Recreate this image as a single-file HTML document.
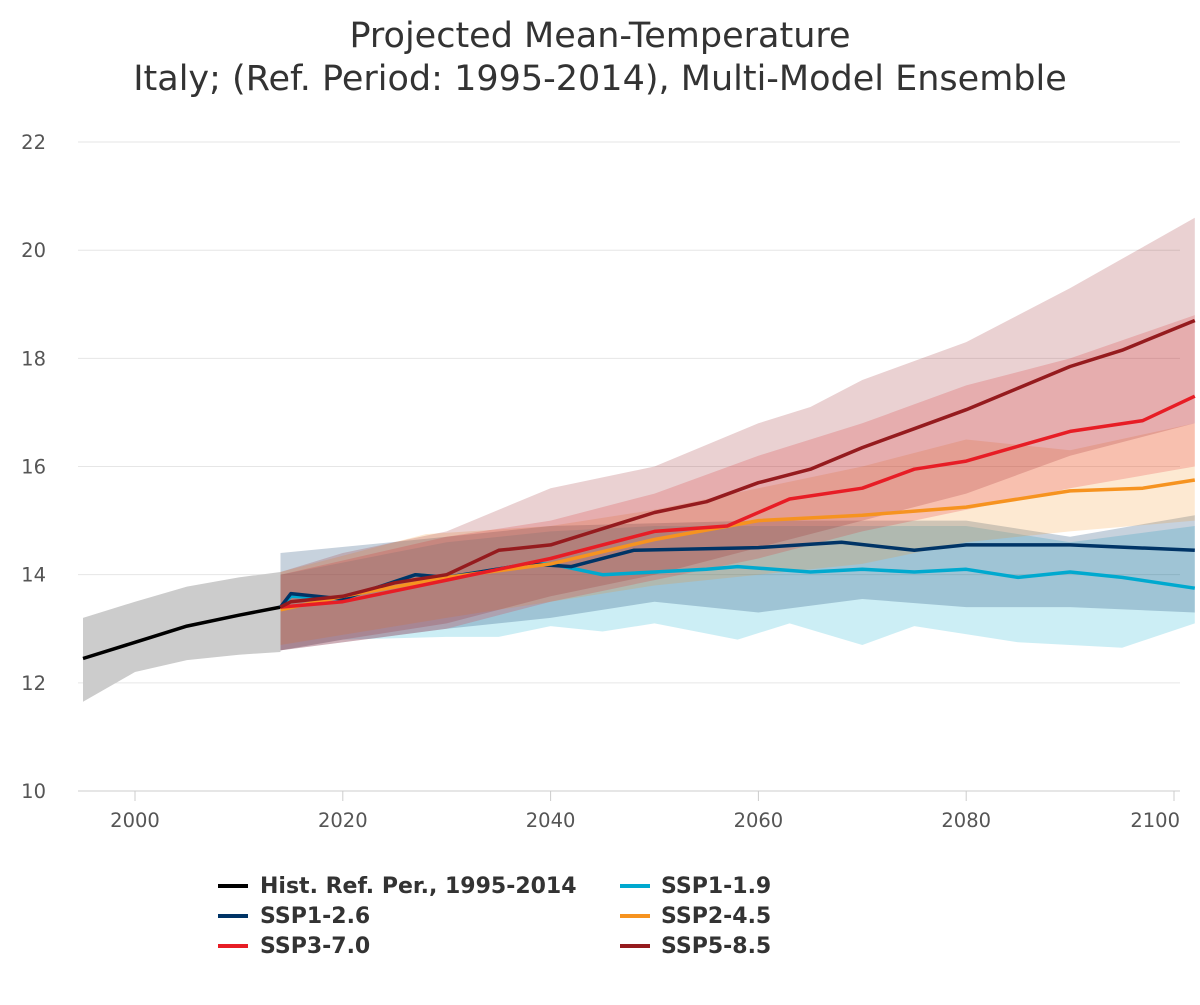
<!DOCTYPE html>
<html><head><meta charset="utf-8"><style>
body{margin:0;background:#fff}
svg text{font-family:"DejaVu Sans","Liberation Sans",sans-serif}
</style></head><body>
<svg id="s" width="1200" height="1000" xmlns="http://www.w3.org/2000/svg">
<text x="600" y="47" text-anchor="middle" font-size="35" fill="#333">Projected Mean-Temperature</text>
<text x="600" y="90" text-anchor="middle" font-size="35" fill="#333">Italy; (Ref. Period: 1995-2014), Multi-Model Ensemble</text>
<g id="grid"></g>
<g id="bands"></g>
<g id="lines" fill="none" stroke-width="3.5" stroke-linejoin="round"></g>
<g font-size="19.5" fill="#555" id="ticks"></g>
<g font-size="22" font-weight="bold" fill="#333">
<line x1="218" y1="886" x2="248" y2="886" stroke="#000" stroke-width="4"/><text x="260" y="893">Hist. Ref. Per., 1995-2014</text>
<line x1="218" y1="916" x2="248" y2="916" stroke="#003466" stroke-width="4"/><text x="260" y="923">SSP1-2.6</text>
<line x1="218" y1="946" x2="248" y2="946" stroke="#e71d25" stroke-width="4"/><text x="260" y="953">SSP3-7.0</text>
<line x1="620" y1="886" x2="650" y2="886" stroke="#00a9cf" stroke-width="4"/><text x="661" y="893">SSP1-1.9</text>
<line x1="620" y1="916" x2="650" y2="916" stroke="#f69320" stroke-width="4"/><text x="661" y="923">SSP2-4.5</text>
<line x1="620" y1="946" x2="650" y2="946" stroke="#951b1e" stroke-width="4"/><text x="661" y="953">SSP5-8.5</text>
</g>
</svg>
<script>
const NS="http://www.w3.org/2000/svg";
const X=y=>135+(y-2000)*10.39, Y=v=>791-(v-10)*54.08;
function el(p,t,a){const e=document.createElementNS(NS,t);for(const k in a)e.setAttribute(k,a[k]);document.getElementById(p).appendChild(e);return e;}
for(let v=10;v<=22;v+=2){el("grid","line",{x1:78,x2:1180,y1:Y(v),y2:Y(v),stroke:v==10?"#ccc":"#e6e6e6","stroke-width":1});
 const t=el("ticks","text",{x:46,y:Y(v)+7,"text-anchor":"end"});t.textContent=v;}
for(let y=2000;y<=2100;y+=20){const t=el("ticks","text",{x:y==2100?1180:X(y),y:827,"text-anchor":y==2100?"end":"middle"});t.textContent=y;
 el("grid","line",{x1:X(y),x2:X(y),y1:791,y2:801,stroke:"#ccc"});}
const pts=a=>a.map(p=>X(p[0]).toFixed(1)+","+Y(p[1]).toFixed(1));
function band(up,lo,fill){el("bands","polygon",{points:pts(up).concat(pts(lo.slice().reverse())).join(" "),fill:fill});}
function line(d,c){el("lines","polyline",{points:pts(d).join(" "),stroke:c});}
band([[1995,13.2],[2000,13.5],[2005,13.78],[2010,13.95],[2014,14.05]],[[1995,11.65],[2000,12.2],[2005,12.42],[2010,12.52],[2014,12.57]],"#cccccc");
band([[2014,14.0],[2030,14.6],[2040,14.8],[2050,14.9],[2060,14.9],[2080,14.9],[2090,14.6],[2102,14.9]],[[2014,12.6],[2020,12.8],[2030,12.85],[2035,12.85],[2040,13.05],[2045,12.95],[2050,13.1],[2058,12.8],[2063,13.1],[2070,12.7],[2075,13.05],[2085,12.75],[2095,12.65],[2102,13.1]],"rgba(0,169,207,0.2)");
band([[2014,14.4],[2030,14.7],[2040,14.9],[2060,15.0],[2080,15.0],[2090,14.7],[2102,15.1]],[[2014,12.6],[2030,13.0],[2040,13.2],[2050,13.5],[2060,13.3],[2070,13.55],[2080,13.4],[2090,13.4],[2102,13.3]],"rgba(0,52,102,0.22)");
band([[2014,14.05],[2028,14.75],[2040,14.9],[2050,15.2],[2060,15.6],[2070,16.0],[2080,16.5],[2090,16.3],[2102,16.8]],[[2014,12.7],[2030,13.2],[2040,13.5],[2050,13.8],[2060,14.0],[2070,14.2],[2080,14.6],[2090,14.8],[2102,15.0]],"rgba(246,147,32,0.2)");
band([[2014,14.0],[2030,14.7],[2040,15.0],[2050,15.5],[2060,16.2],[2070,16.8],[2080,17.5],[2090,18.0],[2102,18.8]],[[2014,12.6],[2030,13.0],[2040,13.5],[2050,13.9],[2060,14.3],[2070,14.8],[2080,15.2],[2090,15.6],[2102,16.0]],"rgba(231,29,37,0.2)");
band([[2014,14.05],[2020,14.4],[2030,14.8],[2040,15.6],[2050,16.0],[2060,16.8],[2065,17.1],[2070,17.6],[2080,18.3],[2090,19.3],[2102,20.6]],[[2014,12.6],[2020,12.8],[2030,13.1],[2040,13.6],[2050,14.0],[2060,14.5],[2070,15.0],[2080,15.5],[2090,16.2],[2102,16.8]],"rgba(149,27,30,0.2)");
line([[1995,12.45],[2000,12.75],[2005,13.05],[2010,13.25],[2014,13.4]],"#000");
line([[2014,13.4],[2015,13.6],[2020,13.55],[2027,14.0],[2030,13.95],[2038,14.2],[2040,14.2],[2045,14.0],[2050,14.05],[2055,14.1],[2058,14.15],[2065,14.05],[2070,14.1],[2075,14.05],[2080,14.1],[2085,13.95],[2090,14.05],[2095,13.95],[2102,13.75]],"#00a9cf");
line([[2014,13.4],[2015,13.65],[2020,13.55],[2027,14.0],[2030,13.95],[2038,14.2],[2042,14.15],[2048,14.45],[2060,14.5],[2068,14.6],[2075,14.45],[2080,14.55],[2090,14.55],[2102,14.45]],"#003466");
line([[2014,13.35],[2020,13.6],[2030,13.95],[2040,14.2],[2050,14.65],[2060,15.0],[2070,15.1],[2080,15.25],[2090,15.55],[2097,15.6],[2102,15.75]],"#f69320");
line([[2014,13.4],[2020,13.5],[2030,13.9],[2040,14.3],[2050,14.8],[2057,14.9],[2063,15.4],[2070,15.6],[2075,15.95],[2080,16.1],[2090,16.65],[2097,16.85],[2102,17.3]],"#e71d25");
line([[2014,13.4],[2015,13.5],[2020,13.6],[2025,13.85],[2030,14.0],[2035,14.45],[2040,14.55],[2045,14.85],[2050,15.15],[2055,15.35],[2060,15.7],[2065,15.95],[2070,16.35],[2075,16.7],[2080,17.05],[2085,17.45],[2090,17.85],[2095,18.15],[2102,18.7]],"#951b1e");
</script>
</body></html>
